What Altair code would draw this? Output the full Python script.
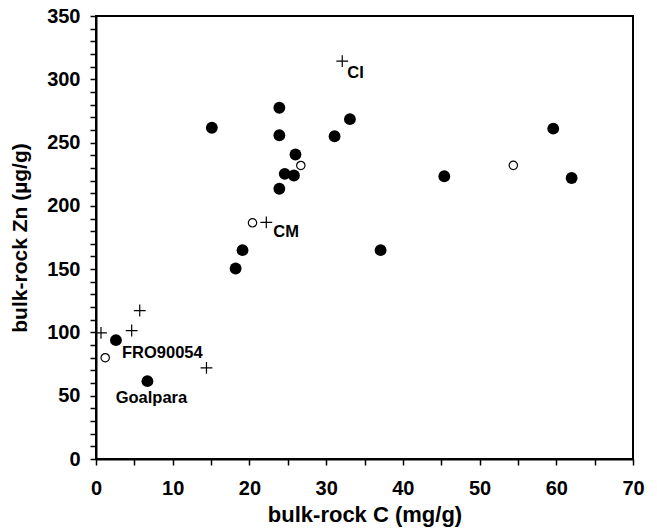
import altair as alt
import pandas as pd

# Bulk-rock carbon (mg/g) and zinc (µg/g) by sample group
filled_c = [2.6, 6.7, 15.1, 23.9, 23.9, 33.1, 31.1, 26.0, 24.6, 25.8, 23.9,
            19.1, 18.2, 37.1, 45.4, 59.6, 62.0]
filled_zn = [93.9, 61.5, 261.7, 277.5, 255.8, 268.5, 255.0, 240.6, 225.3, 224.0,
             213.5, 165.0, 150.5, 165.0, 223.4, 261.0, 222.0]

open_c = [1.2, 20.4, 26.7, 54.4]
open_zn = [80.0, 186.6, 231.9, 232.0]

plus_c = [0.65, 4.65, 5.7, 14.4, 22.2, 32.1]
plus_zn = [99.7, 101.5, 117.3, 72.0, 186.9, 314.3]

label_text = ["FRO90054", "Goalpara", "CM", "CI"]
label_c = [2.6, 6.7, 22.2, 32.1]
label_zn = [93.9, 61.5, 186.9, 314.3]
label_dx = [6, 4, 7, 5]
label_dy = [13, 17, 10, 12]
label_align = ["left", "center", "left", "left"]

FONT = "Liberation Sans"

filled = pd.DataFrame({"c": filled_c, "zn": filled_zn})
hollow = pd.DataFrame({"c": open_c, "zn": open_zn})
plus = pd.DataFrame({"c": plus_c, "zn": plus_zn})

x_scale = alt.Scale(domain=[0, 70], nice=False, zero=False)
y_scale = alt.Scale(domain=[0, 350], nice=False, zero=False)

x_axis = alt.Axis(
    values=list(range(0, 71, 5)),
    labelExpr="datum.value % 10 === 0 ? datum.label : ''",
    title="bulk-rock C (mg/g)",
    grid=False,
    domainColor="black", domainWidth=2,
    tickColor="black", tickWidth=1.5, tickSize=6,
    labelFont=FONT, labelFontSize=20, labelFontWeight="bold", labelColor="black",
    labelPadding=13, labelFlush=False, labelOverlap=False,
    titleFont=FONT, titleFontSize=22, titleFontWeight="bold", titleColor="black",
    titleY=55, titleBaseline="middle",
)
y_axis = alt.Axis(
    values=list(range(0, 351, 10)),
    labelExpr="datum.value % 50 === 0 ? datum.label : ''",
    title="bulk-rock Zn (µg/g)",
    grid=False,
    domainColor="black", domainWidth=2,
    tickColor="black", tickWidth=1.5, tickSize=6,
    labelFont=FONT, labelFontSize=20, labelFontWeight="bold", labelColor="black",
    labelPadding=10, labelFlush=False, labelOverlap=False,
    titleFont=FONT, titleFontSize=21, titleFontWeight="bold", titleColor="black",
    titleX=-76, titleBaseline="middle",
)

X = alt.X("c:Q", scale=x_scale, axis=x_axis)
Y = alt.Y("zn:Q", scale=y_scale, axis=y_axis)

filled_layer = alt.Chart(filled).mark_point(
    shape="circle", filled=True, color="black", size=140, opacity=1
).encode(x=X, y=Y)

open_layer = alt.Chart(hollow).mark_point(
    shape="circle", filled=True, fill="white", stroke="black", strokeWidth=1.2,
    size=70, opacity=1
).encode(x=X, y=Y)

plus_layer = alt.Chart(plus).mark_point(
    shape="M-1,0H1M0,-1V1", filled=False, stroke="black", strokeWidth=1.2,
    size=140, opacity=1
).encode(x=X, y=Y)

label_layers = []
for t, c, z, dx, dy, al in zip(label_text, label_c, label_zn, label_dx, label_dy, label_align):
    df = pd.DataFrame({"c": [c], "zn": [z], "t": [t]})
    label_layers.append(
        alt.Chart(df).mark_text(
            font=FONT, fontSize=16.5, fontWeight="bold", color="black",
            align=al, baseline="middle", dx=dx, dy=dy
        ).encode(x=X, y=Y, text="t:N")
    )

chart = alt.layer(open_layer, plus_layer, filled_layer, *label_layers).properties(
    width=537, height=443,
    autosize=alt.AutoSizeParams(type="none"),
    padding={"left": 96, "top": 16, "right": 24, "bottom": 71},
    background="white",
).configure_view(stroke="black", strokeWidth=2)

chart.save("out.html", embed_options={"renderer": "svg", "actions": False})
